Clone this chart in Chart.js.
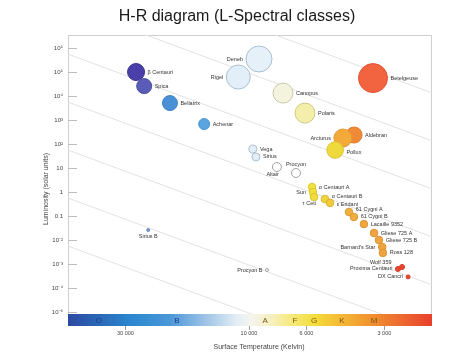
<!DOCTYPE html>
<html>
<head>
<meta charset="utf-8">
<script src="https://cdn.jsdelivr.net/npm/chart.js@4"></script>
<style>
    html, body { margin: 0; padding: 0; background: #fff; }
    #wrap { width: 474px; height: 355px; }
</style>
</head>
<body>
<div id="wrap"><canvas id="hrChart" width="474" height="355"></canvas></div>
<script>
// stars: surface temperature (K) and luminosity (solar units)
const starNames = ['Aldebran', 'Arcturus', 'Pollux', 'β Centauri', 'Spica', 'Bellatrix', 'Achenar',
    'Rigel', 'Deneb', 'Canopus', 'Polaris', 'Betelgeuse', 'Vega', 'Sirius', 'Altair', 'Procyon',
    'α Centauri A', 'Sun', 'τ Ceti', 'α Centauri B', 'ε Eridani', '61 Cygni A', '61 Cygni B',
    'Lacaille 9352', 'Gliese 725 A', 'Gliese 725 B', "Barnard's Star", 'Ross 128', 'Wolf 359',
    'Proxima Centauri', 'DX Cancri', 'Sirius B', 'Procyon B'];
const starTemps = [3930, 4340, 4650, 27300, 25400, 20200, 14900,
    11000, 9150, 7390, 6080, 3320, 9660, 9400, 7800, 6585,
    5710, 5665, 5610, 5090, 4865, 4110, 3935,
    3600, 3290, 3150, 3060, 3040, 2565,
    2660, 2430, 24500, 8520];
const starLums = [237, 178, 56, 100000, 26000, 5100, 680,
    62000, 350000, 13300, 1950, 56000, 62, 29, 11, 6.2,
    1.6, 1, 0.62, 0.51, 0.35, 0.147, 0.091,
    0.046, 0.0195, 0.01, 0.0051, 0.0029, 0.00075,
    0.00062, 0.00029, 0.026, 0.00056];

// bubble look
const starSizes = [8, 9, 8.3, 8.5, 7.5, 7.5, 5.5,
    12, 13, 10, 10, 14.5, 4, 4, 4.5, 4.5,
    3.8, 3.8, 3.8, 3.8, 3.8, 3.8, 3.8,
    3.8, 3.8, 3.8, 3.8, 3.8, 2.5,
    2.5, 2, 1.5, 1.5];
const starColors = ['#f08a36', '#f3aa3a', '#efda3e', '#4a3ea8', '#5a5cb8', '#4a90d6', '#5aa5e0',
    '#e3eff8', '#e5f0f9', '#f4f4de', '#f3efaa', '#f26440', '#e3eff8', '#e3eff8', '#ffffff', '#ffffff',
    '#f2e23c', '#f2e03a', '#f2dc3a', '#f2d43a', '#f2cc3a', '#f0b03e', '#f0ac3e',
    '#f0a63e', '#f0a440', '#f0a440', '#f0a440', '#f0a440', '#e8482e',
    '#e8482e', '#e8482e', '#7fa2cc', '#ffffff'];
const starBorders = ['#e07a2c', '#e09a30', '#d8c430', '#3a3090', '#4a4ca0', '#3f80c4', '#4a94cf',
    '#a9bfd0', '#a9bfd0', '#c9c9ae', '#cfca86', '#e05232', '#a9bfd0', '#a9bfd0', '#a0a0a0', '#a0a0a0',
    '#d8c630', '#d8c630', '#d8c230', '#d8ba30', '#d8b430', '#dc9c34', '#dc9834',
    '#dc9434', '#dc9234', '#dc9234', '#dc9234', '#dc9234', '#d83a24',
    '#d83a24', '#d83a24', '#6a8cb8', '#a0a0a0'];
// r/l = right/left, ru/rd = right nudged up/down, t/b = above/below
const labelSides = ['r', 'l', 'rd', 'r', 'r', 'r', 'r',
    'l', 'l', 'r', 'r', 'r', 'r', 'r', 'bl', 't',
    'r', 'l', 'bl', 'ru', 'rd', 'ru', 'r',
    'r', 'r', 'r', 'l', 'r', 'tl',
    'l', 'l', 'b', 'l'];

// lines of equal star radius, luminosity read at the two chart edges
const lineTemps = [50000, 1965];
const radiusLineLeft = [5.6e-3, 0.56, 56, 5600, 5.6e5, 5.6e7, 5.6e9];
const radiusLineRight = [1.35e-8, 1.35e-6, 1.35e-4, 0.0135, 1.35, 135, 13500];

const yTickValues = [1e6, 1e5, 1e4, 1e3, 100, 10, 1, 0.1, 0.01, 1e-3, 1e-4, 1e-5];
const yTickLabels = ['10⁶', '10⁵', '10⁴', '10³', '10²', '10', '1', '0.1', '10⁻²', '10⁻³', '10⁻⁴', '10⁻⁵'];
const xTickValues = [30000, 10000, 6000, 3000];
const xTickLabels = ['30 000', '10 000', '6 000', '3 000'];

const spectralClasses = ['O', 'B', 'A', 'F', 'G', 'K', 'M'];
const spectralTemps = [38000, 19000, 8670, 6640, 5610, 4380, 3290];
const barStopTemps = [50000, 28800, 20200, 14800, 11300, 9900, 8300, 6640, 5560, 4260, 3260, 1965];
const barStopColors = ['#2b4aa0', '#2a86cf', '#4b98d8', '#9cc2e6', '#e0ecf4', '#f4f4f0',
    '#f6f0c4', '#f6e870', '#f5dc3a', '#f4b434', '#f08c30', '#e8402c'];

const FONT = '"Liberation Sans", Arial, sans-serif';

const hrDecor = {
    id: 'hrDecor',
    beforeDatasetsDraw(chart) {
        const ctx = chart.ctx;
        const a = chart.chartArea;
        const ys = chart.scales.y;
        ctx.save();
        ctx.strokeStyle = '#cfcfcf';
        ctx.lineWidth = 1;
        ctx.beginPath();
        ctx.moveTo(a.left + 0.5, a.bottom);
        ctx.lineTo(a.left + 0.5, a.top + 0.5);
        ctx.lineTo(a.right - 0.5, a.top + 0.5);
        ctx.lineTo(a.right - 0.5, a.bottom);
        ctx.stroke();
        ctx.strokeStyle = '#bdbdbd';
        yTickValues.forEach(v => {
            const py = Math.round(ys.getPixelForValue(v)) + 0.5;
            ctx.beginPath();
            ctx.moveTo(a.left, py);
            ctx.lineTo(a.left + 9, py);
            ctx.stroke();
        });
        ctx.restore();
    },
    afterDatasetsDraw(chart) {
        const ctx = chart.ctx;
        const a = chart.chartArea;
        const xs = chart.scales.x;
        ctx.save();

        // spectral class colour bar
        const barTop = a.bottom - 12;
        const w = a.right - a.left;
        const grad = ctx.createLinearGradient(a.left, 0, a.right, 0);
        barStopTemps.forEach((t, i) => {
            const f = Math.min(1, Math.max(0, (xs.getPixelForValue(t) - a.left) / w));
            grad.addColorStop(f, barStopColors[i]);
        });
        ctx.fillStyle = grad;
        ctx.fillRect(a.left, barTop, w, 12);
        ctx.font = '8px ' + FONT;
        ctx.textAlign = 'center';
        ctx.textBaseline = 'middle';
        spectralClasses.forEach((c, i) => {
            ctx.fillStyle = i < 2 ? '#1e3a86' : '#7a5612';
            ctx.fillText(c, xs.getPixelForValue(spectralTemps[i]), barTop + 6.5);
        });
        ctx.strokeStyle = '#9a9a9a';
        xTickValues.forEach(v => {
            const px = Math.round(xs.getPixelForValue(v)) + 0.5;
            ctx.beginPath();
            ctx.moveTo(px, a.bottom);
            ctx.lineTo(px, a.bottom + 4);
            ctx.stroke();
        });

        // star names
        const meta = chart.getDatasetMeta(chart.data.datasets.length - 1);
        ctx.font = '5.5px ' + FONT;
        ctx.fillStyle = '#333';
        meta.data.forEach((el, i) => {
            const r = starSizes[i];
            let x = el.x, y = el.y, align = 'left';
            switch (labelSides[i]) {
                case 'r': x += r + 3; break;
                case 'ru': x += r + 3; y -= 2.5; break;
                case 'rd': x += r + 3; y += 2; break;
                case 'l': x -= r + 3; align = 'right'; break;
                case 't': y -= r + 4.5; align = 'center'; break;
                case 'b': y += r + 4.5; align = 'center'; break;
                case 'bl': x += 2; y += r + 3; align = 'right'; break;
                case 'tl': x -= r + 8; y -= r + 2; align = 'right'; break;
            }
            ctx.textAlign = align;
            ctx.fillText(starNames[i], x, y);
        });

        // titles
        ctx.fillStyle = '#1a1a1a';
        ctx.font = '16px ' + FONT;
        ctx.textAlign = 'center';
        ctx.fillText('H-R diagram (L-Spectral classes)', 237, 17);
        ctx.fillStyle = '#444';
        ctx.font = '7px ' + FONT;
        ctx.fillText('Surface Temperature (Kelvin)', 259, 347);
        ctx.translate(46.5, 189);
        ctx.rotate(-Math.PI / 2);
        ctx.fillText('Luminosity (solar units)', 0, 0);
        ctx.restore();
    }
};

const datasets = radiusLineLeft.map((l, i) => ({
    type: 'line',
    data: [{ x: lineTemps[0], y: l }, { x: lineTemps[1], y: radiusLineRight[i] }],
    borderColor: '#e2e2e2',
    borderWidth: 1,
    pointRadius: 0,
    order: 2
}));
datasets.push({
    type: 'bubble',
    data: starTemps.map((t, i) => ({ x: t, y: starLums[i], r: starSizes[i] })),
    backgroundColor: starColors,
    borderColor: starBorders,
    borderWidth: 1,
    order: 1
});

new Chart(document.getElementById('hrChart'), {
    data: { datasets: datasets },
    options: {
        responsive: false,
        animation: false,
        events: [],
        layout: { padding: { left: 0, right: 42, top: 35, bottom: 0 } },
        plugins: {
            legend: { display: false },
            tooltip: { enabled: false },
            title: { display: false }
        },
        scales: {
            x: {
                type: 'logarithmic',
                reverse: true,
                min: 1965,
                max: 50000,
                afterBuildTicks: s => { s.ticks = xTickValues.map(v => ({ value: v })); },
                afterFit: s => { s.height = 29; },
                ticks: {
                    callback: (v, i) => xTickLabels[i],
                    font: { family: FONT, size: 5.5 },
                    color: '#444',
                    padding: 4,
                    autoSkip: false,
                    maxRotation: 0
                },
                grid: { display: false, drawTicks: false },
                border: { display: false }
            },
            y: {
                type: 'logarithmic',
                min: 2.6e-6,
                max: 3.5e6,
                afterBuildTicks: s => { s.ticks = yTickValues.map(v => ({ value: v })); },
                afterFit: s => { s.width = 68; },
                ticks: {
                    callback: (v, i) => yTickLabels[i],
                    font: { family: FONT, size: 6 },
                    color: '#444',
                    padding: 5,
                    autoSkip: false
                },
                grid: { display: false, drawTicks: false },
                border: { display: false }
            }
        }
    },
    plugins: [hrDecor]
});
</script>
</body>
</html>
